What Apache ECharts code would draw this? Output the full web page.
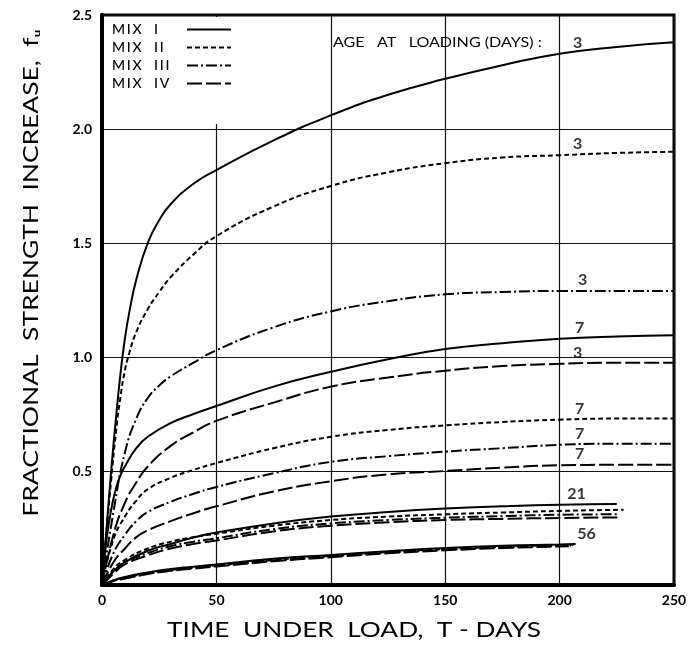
<!DOCTYPE html>
<html>
<head>
<meta charset="utf-8">
<script src="https://cdn.jsdelivr.net/npm/echarts@6/dist/echarts.min.js"></script>
<style>
  html, body { margin: 0; padding: 0; background: #fff; }
  #chart { width: 691px; height: 649px; }
</style>
</head>
<body>
<div id="chart"></div>
<script>
// axis ticks
const xTicks = [0, 50, 100, 150, 200, 250];
const yTicks = [0, 0.5, 1.0, 1.5, 2.0, 2.5];
const mixNames = ['MIX I', 'MIX II', 'MIX III', 'MIX IV'];

// age at loading 3 days  [T, fu]
const mix1Age3 = [[0,0],[2,0.25],[4,0.5],[6,0.72],[8,0.92],[10,1.08],[12,1.2],[15,1.34],[20,1.5],[25,1.6],[30,1.67],[40,1.76],[50,1.82],[75,1.95],[100,2.06],[125,2.15],[150,2.22],[175,2.28],[200,2.33],[225,2.36],[250,2.38]];
const mix2Age3 = [[0,0],[2,0.24],[4,0.46],[6,0.66],[8,0.82],[10,0.94],[12,1.02],[15,1.11],[20,1.21],[25,1.285],[30,1.35],[40,1.45],[50,1.53],[75,1.66],[100,1.75],[125,1.81],[150,1.85],[175,1.875],[200,1.885],[225,1.895],[250,1.9]];
const mix3Age3 = [[0,0],[5,0.32],[10,0.58],[15,0.73],[20,0.82],[25,0.875],[30,0.915],[40,0.975],[50,1.03],[75,1.13],[100,1.2],[125,1.245],[150,1.275],[175,1.285],[200,1.29],[225,1.29],[250,1.29]];
const mix4Age3 = [[0,0],[5,0.22],[10,0.36],[15,0.45],[20,0.52],[30,0.61],[40,0.67],[50,0.72],[75,0.8],[100,0.87],[125,0.91],[150,0.94],[175,0.96],[200,0.97],[225,0.975],[250,0.975]];

// 7 days
const mix1Age7 = [[0,0],[2,0.2],[4,0.33],[6,0.42],[8,0.48],[10,0.52],[15,0.6],[20,0.65],[30,0.71],[40,0.75],[50,0.785],[75,0.87],[100,0.935],[125,0.99],[150,1.035],[175,1.06],[200,1.08],[225,1.09],[250,1.095]];
const mix2Age7 = [[0,0],[5,0.2],[10,0.3],[15,0.37],[20,0.42],[30,0.47],[40,0.505],[50,0.535],[75,0.6],[100,0.65],[125,0.68],[150,0.7],[175,0.715],[200,0.725],[225,0.73],[250,0.73]];
const mix3Age7 = [[0,0],[5,0.14],[10,0.22],[15,0.28],[20,0.32],[30,0.365],[40,0.4],[50,0.43],[75,0.49],[100,0.54],[125,0.565],[150,0.585],[175,0.6],[200,0.615],[225,0.62],[250,0.62]];
const mix4Age7 = [[0,0],[5,0.1],[10,0.16],[15,0.21],[20,0.24],[30,0.28],[40,0.315],[50,0.345],[75,0.41],[100,0.455],[125,0.485],[150,0.5],[175,0.515],[200,0.525],[225,0.527],[250,0.527]];

// 21 days
const mix1Age21 = [[0,0],[5,0.06],[10,0.1],[20,0.15],[30,0.18],[40,0.208],[50,0.23],[75,0.27],[100,0.3],[125,0.32],[150,0.335],[175,0.345],[200,0.352],[225,0.355]];
const mix2Age21 = [[0,0],[5,0.07],[10,0.11],[20,0.16],[30,0.19],[40,0.21],[50,0.225],[75,0.26],[100,0.285],[125,0.3],[150,0.31],[175,0.318],[200,0.325],[228,0.33]];
const mix3Age21 = [[0,0],[5,0.06],[10,0.1],[20,0.14],[30,0.17],[40,0.19],[50,0.205],[75,0.245],[100,0.27],[125,0.285],[150,0.295],[175,0.302],[200,0.308],[225,0.31]];
const mix4Age21 = [[0,0],[5,0.05],[10,0.09],[20,0.13],[30,0.16],[40,0.18],[50,0.195],[75,0.235],[100,0.26],[125,0.275],[150,0.285],[175,0.29],[200,0.294],[226,0.296]];

// 56 days
const mix1Age56 = [[0,0],[5,0.02],[10,0.035],[20,0.055],[30,0.07],[40,0.08],[50,0.09],[75,0.115],[100,0.132],[125,0.148],[150,0.162],[175,0.172],[200,0.178],[207,0.18]];
const mix2Age56 = [[0,0],[5,0.02],[10,0.033],[20,0.052],[30,0.066],[40,0.077],[50,0.086],[75,0.11],[100,0.128],[125,0.145],[150,0.158],[175,0.168],[200,0.175],[206,0.176]];
const mix3Age56 = [[0,0],[5,0.018],[10,0.03],[20,0.05],[30,0.064],[40,0.075],[50,0.084],[75,0.107],[100,0.125],[125,0.142],[150,0.155],[175,0.165],[200,0.172],[205,0.173]];
const mix4Age56 = [[0,0],[5,0.017],[10,0.028],[20,0.048],[30,0.062],[40,0.072],[50,0.081],[75,0.104],[100,0.122],[125,0.139],[150,0.152],[175,0.162],[200,0.169],[204,0.17]];

// curve labels: [text, y at T=200, x shift in px]
const curveLabels = [
  ['3', 2.33, 18], ['3', 1.885, 18], ['3', 1.29, 23], ['7', 1.08, 20],
  ['3', 0.97, 18], ['7', 0.725, 20], ['7', 0.615, 20], ['7', 0.525, 20],
  ['21', 0.352, 17], ['56', 0.178, 27]
];

const dashTypes = ['solid', [5, 3], [11, 3, 2, 3], [15, 4]];
const curves = [
  [0, mix1Age3], [1, mix2Age3], [2, mix3Age3], [3, mix4Age3],
  [0, mix1Age7], [1, mix2Age7], [2, mix3Age7], [3, mix4Age7],
  [0, mix1Age21], [1, mix2Age21], [2, mix3Age21], [3, mix4Age21],
  [0, mix1Age56], [1, mix2Age56], [2, mix3Age56], [3, mix4Age56]
];

const fontAxis = '"Lato", "DejaVu Sans", sans-serif';

const series = curves.map(([m, pts]) => ({
  name: mixNames[m],
  type: 'line',
  smooth: 0.5,
  symbol: 'none',
  lineStyle: { color: '#000', width: 2, type: dashTypes[m] },
  itemStyle: { color: '#000' },
  z: 3,
  data: pts
}));

// labels placed on the curves at T = 200
series.push({
  name: 'labels',
  type: 'scatter',
  symbolSize: 0,
  silent: true,
  z: 5,
  data: curveLabels.map(([txt, y, dx]) => ({
    value: [200, y],
    label: {
      show: true, formatter: txt, position: 'top', distance: 3, offset: [dx, 0],
      color: '#000', fontSize: 16, fontWeight: 'bold', fontFamily: fontAxis
    }
  }))
});

const chart = echarts.init(document.getElementById('chart'), null, { renderer: 'canvas' });
chart.setOption({
  animation: false,
  backgroundColor: '#fff',
  grid: { left: 102, right: 17, top: 15, bottom: 64, show: true, borderColor: '#000', borderWidth: 3 },
  legend: {
    data: mixNames,
    orient: 'vertical',
    left: 104, top: 17,
    align: 'right',
    itemGap: 3,
    itemWidth: 44,
    itemHeight: 12,
    backgroundColor: '#fff',
    padding: [5, 25, 33, 8],
    itemStyle: { opacity: 0, borderWidth: 0 },
    formatter: n => '{t|' + n.replace(' ', '  ').split('').join('\u2009') + '}',
    textStyle: {
      color: '#000', fontSize: 14, fontWeight: 500, fontFamily: fontAxis,
      rich: { t: { width: 70, height: 15, lineHeight: 15, align: 'left', color: '#000', fontSize: 14, fontWeight: 500, fontFamily: fontAxis } }
    },
    selectedMode: false
  },
  xAxis: {
    type: 'value', min: 0, max: 250, interval: 50,
    axisLine: { show: true, onZero: false, lineStyle: { color: '#000', width: 4 } },
    axisTick: { show: false },
    splitLine: { show: true, lineStyle: { color: '#111', width: 1.2 } },
    axisLabel: {
      margin: 8, color: '#000', fontSize: 14, fontWeight: 'bold', fontFamily: fontAxis,
      formatter: v => (xTicks.includes(v) ? String(v) : '')
    }
  },
  yAxis: {
    type: 'value', min: 0, max: 2.5, interval: 0.5,
    axisLine: { show: true, lineStyle: { color: '#000', width: 4 } },
    axisTick: { show: false },
    splitLine: { show: true, lineStyle: { color: '#111', width: 1.2 } },
    axisLabel: {
      margin: 10, color: '#000', fontSize: 14, fontWeight: 'bold', fontFamily: fontAxis,
      formatter: v => (v === 0 || !yTicks.includes(v) ? '' : v.toFixed(1))
    }
  },
  graphic: [
    {
      type: 'text', x: 333, y: 42, scaleX: 1.15, z: 10,
      style: { text: 'AGE   AT   LOADING (DAYS) :', fill: '#000', font: '14px ' + fontAxis, textVerticalAlign: 'middle' }
    },
    {
      type: 'text', x: 354, y: 630, scaleX: 1.25, z: 10,
      style: { text: 'TIME  UNDER  LOAD,  T - DAYS', fill: '#000', font: '21px ' + fontAxis, textAlign: 'center', textVerticalAlign: 'middle' }
    },
    {
      type: 'text', x: 31, y: 273, rotation: Math.PI / 2, scaleX: 1.2, z: 10,
      style: { text: 'FRACTIONAL  STRENGTH  INCREASE,  f\u1D64', fill: '#000', font: '22px ' + fontAxis, textAlign: 'center', textVerticalAlign: 'middle' }
    }
  ],
  series
});
</script>
</body>
</html>
